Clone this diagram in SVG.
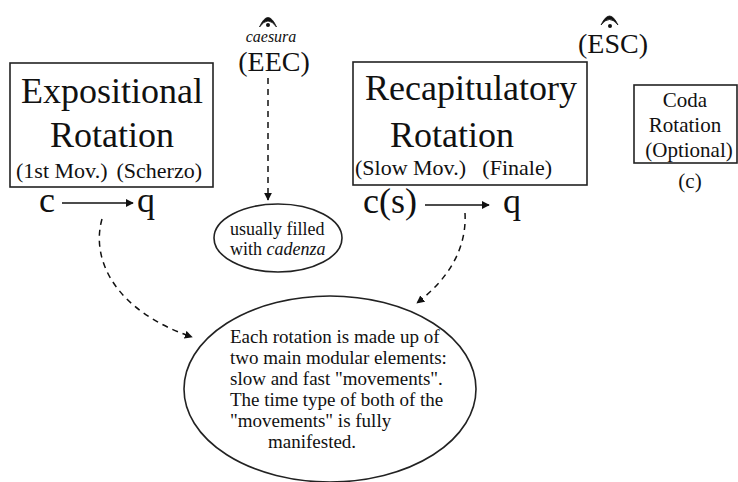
<svg xmlns="http://www.w3.org/2000/svg" width="738" height="482" viewBox="0 0 738 482">
<style>
text{font-family:"Liberation Serif","Times New Roman",serif;fill:#111}
.big{font-size:36px}
.sub{font-size:22px}
.cq{font-size:36px}
.sm{font-size:18px}
.body{font-size:19px}
.coda{font-size:21px}
.box{fill:none;stroke:#222;stroke-width:1.6}
.dash{fill:none;stroke:#111;stroke-width:1.5;stroke-dasharray:6 5}
.solid{fill:none;stroke:#111;stroke-width:1.3}
.ferm{fill:#111;stroke:#111;stroke-width:0.8}
</style>
<defs>
<marker id="ah" viewBox="0 0 10 10" refX="9" refY="5" markerWidth="8" markerHeight="8" markerUnits="userSpaceOnUse" orient="auto">
<path d="M0,0 L10,5 L0,10 Z" fill="#111"/>
</marker>
</defs>
<rect width="738" height="482" fill="#fff"/>

<g id="expositional">
<rect class="box" x="10" y="63" width="203" height="124"/>
<text class="big" x="112" y="103" text-anchor="middle">Expositional</text>
<text class="big" x="112" y="147" text-anchor="middle">Rotation</text>
<text class="sub" x="16" y="178">(1st Mov.)</text>
<text class="sub" x="202" y="178" text-anchor="end">(Scherzo)</text>
<text class="cq" x="39" y="212">c</text>
<text class="cq" x="137" y="212">q</text>
</g>

<g id="eec">
<path class="ferm" d="M259.5,27 Q268,8 276.5,27 Q268,15 259.5,27 Z"/>
<circle cx="268" cy="25" r="2" fill="#111"/>
<text x="271" y="42" font-size="16" font-style="italic" text-anchor="middle">caesura</text>
<text x="274" y="71" font-size="28" text-anchor="middle">(EEC)</text>
</g>

<g id="cadenza">
<ellipse class="box" cx="278" cy="238" rx="64" ry="34"/>
<text class="sm" x="230" y="235">usually filled</text>
<text class="sm" x="230" y="255">with <tspan font-style="italic">cadenza</tspan></text>
</g>

<g id="recapitulatory">
<rect class="box" x="353" y="62" width="234" height="123"/>
<text class="big" x="365" y="100">Recapitulatory</text>
<text class="big" x="452" y="147" text-anchor="middle">Rotation</text>
<text class="sub" x="355" y="175">(Slow Mov.)</text>
<text class="sub" x="552" y="175" text-anchor="end">(Finale)</text>
<text class="cq" x="363" y="213">c(s)</text>
<text class="cq" x="503" y="213">q</text>
</g>

<g id="esc">
<path class="ferm" d="M601,25 Q609.5,7 618,25 Q609.5,14 601,25 Z"/>
<circle cx="610" cy="26" r="2" fill="#111"/>
<text x="578" y="53" font-size="28">(ESC)</text>
</g>

<g id="coda">
<rect class="box" x="634" y="85" width="103" height="78"/>
<text class="coda" x="685" y="107" text-anchor="middle">Coda</text>
<text class="coda" x="685" y="132" text-anchor="middle">Rotation</text>
<text class="coda" x="689" y="157" text-anchor="middle">(Optional)</text>
<text class="coda" x="690" y="188" text-anchor="middle">(c)</text>
</g>

<g id="summary">
<ellipse class="box" cx="330" cy="389" rx="146" ry="93"/>
<text class="body" x="230" y="343">Each rotation is made up of</text>
<text class="body" x="230" y="364">two main modular elements:</text>
<text class="body" x="230" y="385">slow and fast "movements".</text>
<text class="body" x="230" y="406">The time type of both of the</text>
<text class="body" x="230" y="427">"movements" is fully</text>
<text class="body" x="268" y="448">manifested.</text>
</g>

<g id="connectors">
<path class="solid" d="M62,203 L133,203" marker-end="url(#ah)"/>
<path class="solid" d="M425,205 L489,205" marker-end="url(#ah)"/>
<path class="dash" d="M268,78 L268,200" marker-end="url(#ah)"/>
<path class="dash" d="M102,219 C90,262 118,312 192,337" marker-end="url(#ah)"/>
<path class="dash" d="M465,213 C467,250 447,280 417,303" marker-end="url(#ah)"/>
</g>
</svg>
